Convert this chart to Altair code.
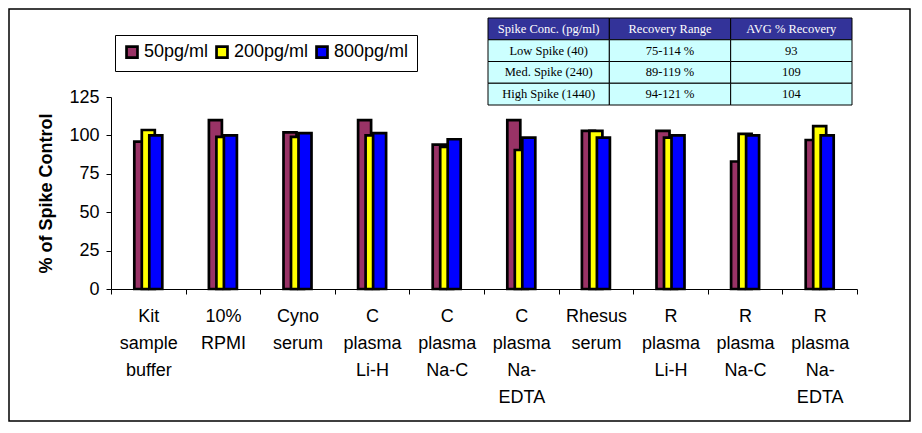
import altair as alt
import pandas as pd

categories = ["Kit|sample|buffer", "10%|RPMI", "Cyno|serum", "C|plasma|Li-H", "C|plasma|Na-C",
              "C|plasma|Na-|EDTA", "Rhesus|serum", "R|plasma|Li-H", "R|plasma|Na-C", "R|plasma|Na-|EDTA"]
series_names = ["50pg/ml", "200pg/ml", "800pg/ml"]
s50 = [96, 110, 102, 110, 94, 110, 103, 103, 83, 97]
s200 = [103.5, 99, 99, 100, 92.5, 90.5, 103, 98.5, 101, 106]
s800 = [100, 100, 101.5, 101.5, 97.5, 98.5, 98.5, 100, 100, 100]
colors = ["#993366", "#FFFF00", "#0000FF"]

table_header = ["Spike Conc. (pg/ml)", "Recovery Range", "AVG % Recovery"]
spike_conc = ["Low Spike (40)", "Med. Spike (240)", "High Spike (1440)"]
recovery_range = ["75-114 %", "89-119 %", "94-121 %"]
avg_recovery = ["93", "109", "104"]

rows = []
for name, vals in zip(series_names, [s50, s200, s800]):
    for c, v in zip(categories, vals):
        rows.append({"category": c, "series": name, "value": v})
df = pd.DataFrame(rows)

trows = []
for j, h in enumerate(table_header):
    trows.append({"row": 0, "col": j, "text": h})
for i in range(3):
    for j, t in enumerate([spike_conc[i], recovery_range[i], avg_recovery[i]]):
        trows.append({"row": i + 1, "col": j, "text": t})
tdf = pd.DataFrame(trows)

FONT = "Arial, Liberation Sans, sans-serif"
SERIF = "Times New Roman, Liberation Serif, serif"

legend = alt.Legend(
    title=None, orient="none", legendX=4, legendY=-62, direction="horizontal",
    strokeColor="black", padding=8, fillColor="white",
    labelFont=FONT, labelFontSize=18, labelColor="black", labelOffset=3,
    columnPadding=2, symbolType="square", symbolSize=120,
    symbolStrokeColor="black", symbolStrokeWidth=2.7,
)

color = alt.Color("series:N", scale=alt.Scale(domain=series_names, range=colors), legend=legend)

x_enc = alt.X("category:N", sort=categories, title=None,
              scale=alt.Scale(paddingInner=0, paddingOuter=0),
              axis=alt.Axis(labelExpr="split(datum.label, '|')", labelAngle=0,
                            labelFont=FONT, labelFontSize=18, labelColor="black",
                            labelLineHeight=27, labelBaseline="top", labelPadding=13,
                            tickBand="extent", tickSize=5, tickColor="black",
                            domainColor="black", labelLimit=200, zindex=1))
y_enc = alt.Y("value:Q", title="% of Spike Control",
              scale=alt.Scale(domain=[0, 125], nice=False),
              axis=alt.Axis(values=[0, 25, 50, 75, 100, 125], grid=False,
                            labelFont=FONT, labelFontSize=18, labelColor="black",
                            tickSize=5, tickColor="black", domainColor="black",
                            titleFont=FONT, titleFontSize=18, titleFontWeight="bold",
                            titleColor="black", titlePadding=13, labelPadding=7, zindex=1))

base = alt.Chart(df)
offsets = [-7.5, 0, 7.5]
bar_layers = []
for name, off in zip(series_names, offsets):
    bar_layers.append(
        base.transform_filter(alt.datum.series == name)
        .mark_bar(width=13, xOffset=off, stroke="black", strokeWidth=2.7)
        .encode(x=x_enc, y=y_enc, color=color)
    )
bars = alt.layer(*bar_layers)

tx = alt.X("col:O", scale=alt.Scale(domain=[0, 1, 2], range=[377, 741], paddingInner=0, paddingOuter=0), axis=None)
ty = alt.Y("row:O", scale=alt.Scale(domain=[0, 1, 2, 3], range=[-79, 8], paddingInner=0, paddingOuter=0), axis=None)
tbase = alt.Chart(tdf)
cells = tbase.mark_rect(stroke="black", strokeWidth=1).encode(
    x=tx, y=ty,
    fill=alt.condition("datum.row == 0", alt.value("#333399"), alt.value("#CCFFFF")),
)
texts = tbase.mark_text(font=SERIF, fontSize=12.5).encode(
    x=tx, y=ty, text="text:N",
    color=alt.condition("datum.row == 0", alt.value("white"), alt.value("black")),
)
table = alt.layer(cells, texts)

frame = alt.Chart(pd.DataFrame({"a": [0]})).mark_rect(fill="transparent", stroke="black", strokeWidth=1.5).encode(
    x=alt.value(-102), x2=alt.value(799), y=alt.value(-88), y2=alt.value(324)
)

chart = alt.layer(frame, bars, table).resolve_scale(x="independent", y="independent").properties(
    width=746, height=192, padding=0, background="white"
).configure_view(stroke=None)

chart.save("out.html", embed_options={"renderer": "svg", "actions": False})
